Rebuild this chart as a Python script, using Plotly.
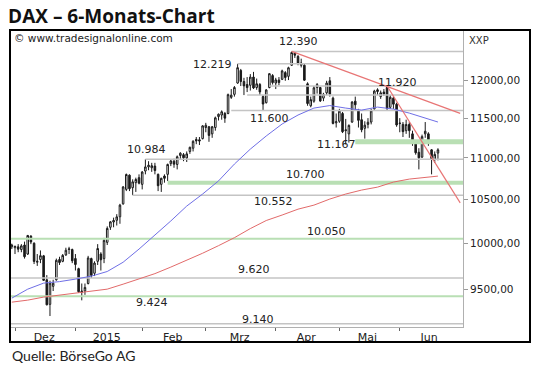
import numpy as np
import pandas as pd
import plotly.graph_objects as go

# ---------------- data ----------------
HOLIDAYS = ["2014-12-24", "2014-12-25", "2014-12-26", "2014-12-31", "2015-01-01",
            "2015-04-03", "2015-04-06", "2015-05-01", "2015-05-25"]
dates = [d.strftime("%Y-%m-%d") for d in pd.bdate_range("2014-11-28", "2015-06-17")
         if d.strftime("%Y-%m-%d") not in HOLIDAYS]

OPEN = [9960,
        9950, 9960, 9930, 9980, 9880, 10080, 10000, 9790, 9820, 9860, 9600, 9340, 9530, 9600, 9820, 9800, 9870, 9930, 9930,
        9830, 9720, 9480, 9480, 9560, 9830, 9670, 9800, 9880, 9830, 10010, 10180, 10240, 10260, 10300, 10450, 10620, 10790, 10640, 10700, 10760,
        10680, 10840, 10890, 10880, 10900, 10800, 10680, 10780, 10800, 10930, 10960, 10920, 11030, 11040, 11000, 11080, 11120, 11230, 11225, 11240,
        11380, 11390, 11300, 11380, 11520, 11540, 11560, 11560, 11770, 11810, 11960, 12130, 11980, 11940, 11930, 12040, 11900, 11940, 11780, 11700, 11900, 12060,
        11960, 12000, 12010, 12100, 12050, 12200, 12370, 12320, 12200, 12200, 11950, 11660, 11720, 11900, 11900, 11760, 11830, 11990, 11760, 11440,
        11460, 11560, 11340, 11300, 11450, 11720, 11600, 11480, 11370, 11420, 11450, 11620, 11870, 11780, 11840, 11900, 11640, 11760, 11680,
        11430, 11420, 11340, 11420, 11300, 11190, 11070, 11010, 11300, 11300, 11100, 10980, 11060]
HIGH = [9995,
        9975, 9990, 9990, 10018, 10093, 10090, 10010, 9880, 9920, 9870, 9650, 9590, 9600, 9830, 9850, 9880, 9950, 9960, 9940,
        9880, 9730, 9560, 9560, 9860, 9840, 9800, 9990, 9900, 10060, 10190, 10250, 10290, 10330, 10450, 10660, 10810, 10800, 10740, 10760, 10800,
        10840, 10984, 10960, 10940, 10940, 10810, 10760, 10800, 10930, 10980, 10990, 11030, 11070, 11060, 11080, 11140, 11220, 11260, 11260, 11410,
        11440, 11400, 11400, 11520, 11560, 11600, 11580, 11820, 11880, 11920, 12219, 12150, 12030, 12040, 12080, 12110, 12020, 11960, 11800, 11880, 12090, 12080,
        12030, 12040, 12140, 12120, 12180, 12390, 12380, 12340, 12290, 12220, 11970, 11780, 11920, 11960, 11910, 11830, 11990, 12040, 11780, 11560,
        11620, 11580, 11490, 11420, 11720, 11780, 11620, 11560, 11460, 11500, 11620, 11870, 11890, 11860, 11880, 11920, 11800, 11780, 11700,
        11500, 11450, 11480, 11450, 11340, 11220, 11120, 11290, 11450, 11320, 11110, 11080, 11120]
LOW = [9935,
       9880, 9900, 9900, 9830, 9870, 9990, 9770, 9750, 9780, 9590, 9330, 9219, 9480, 9590, 9760, 9790, 9860, 9880, 9780,
       9700, 9460, 9382, 9440, 9550, 9620, 9640, 9760, 9700, 9780, 9980, 10150, 10180, 10200, 10220, 10440, 10600, 10600, 10552, 10590, 10680,
       10620, 10800, 10850, 10830, 10800, 10600, 10590, 10700, 10720, 10900, 10880, 10860, 10990, 10960, 10950, 11050, 11080, 11170, 11160, 11230,
       11320, 11200, 11250, 11340, 11470, 11480, 11440, 11550, 11750, 11780, 11950, 11920, 11800, 11840, 11860, 11880, 11870, 11800, 11600, 11690, 11890, 11940,
       11880, 11930, 12000, 11990, 12000, 12190, 12300, 12200, 12170, 11990, 11660, 11640, 11700, 11820, 11710, 11720, 11800, 11780, 11420, 11380,
       11440, 11310, 11167, 11190, 11440, 11600, 11380, 11320, 11240, 11370, 11420, 11610, 11800, 11750, 11790, 11600, 11620, 11620, 11390,
       11320, 11260, 11300, 11250, 11150, 11040, 10860, 11000, 11250, 11150, 10800, 10940, 10970]
CLOSE = [9980,
         9963, 9934, 9971, 9851, 10087, 10014, 9799, 9800, 9862, 9594, 9335, 9564, 9563, 9811, 9787, 9865, 9922, 9936, 9806,
         9765, 9473, 9469, 9518, 9837, 9648, 9781, 9941, 9817, 10032, 10167, 10242, 10257, 10299, 10435, 10649, 10798, 10628, 10710, 10738, 10694,
         10828, 10890, 10911, 10905, 10846, 10664, 10752, 10752, 10920, 10963, 10924, 11014, 11058, 11002, 11050, 11131, 11206, 11211, 11210, 11401,
         11409, 11280, 11390, 11504, 11550, 11582, 11500, 11806, 11799, 11901, 12167, 11980, 11922, 11899, 12040, 11895, 11950, 11842, 11683, 11868, 12086, 11966,
         12002, 11967, 12123, 12035, 12166, 12375, 12338, 12227, 12231, 11998, 11689, 11740, 11896, 11939, 11723, 11810, 11960, 11811, 11432, 11454,
         11590, 11327, 11350, 11407, 11709, 11673, 11472, 11351, 11410, 11447, 11594, 11853, 11848, 11830, 11815, 11625, 11771, 11681, 11413,
         11436, 11328, 11419, 11340, 11197, 11064, 11001, 11265, 11333, 11197, 10985, 11044, 11100]
assert len(OPEN) == len(HIGH) == len(LOW) == len(CLOSE) == len(dates)

# moving averages at every fifth session
MA_DATES = dates[::5] + [dates[-1]]
MA_BLUE = [9405, 9500, 9564, 9580, 9607, 9639, 9689, 9790, 9935, 10091, 10252, 10424, 10565, 10721,
           10925, 11109, 11273, 11425, 11540, 11630, 11663, 11630, 11604, 11643, 11617, 11565, 11501, 11450]
MA_RED = [9363, 9384, 9416, 9437, 9453, 9474, 9500, 9553, 9612, 9666, 9737, 9812, 9889, 9973,
          10062, 10165, 10257, 10320, 10388, 10435, 10506, 10565, 10612, 10647, 10707, 10743, 10767, 10779]

# trend lines
TREND1_X = ["2015-04-10", "2015-06-26"]
TREND1_Y = [12390, 11562]
TREND2_X = ["2015-05-26", "2015-06-26"]
TREND2_Y = [11920, 10462]

# support / resistance levels
GRAY_LEVELS = [12390, 12219, 11920, 11800, 11600, 10984, 10552, 9620, 9140]
GRAY_FROM = ["2015-04-10", "2015-03-16", "2015-03-30", "2015-03-19", "2015-03-12",
             "2015-02-03", "2015-01-28", None, None]
GREEN_LEVELS = [11200, 10700, 10050, 9424]
GREEN_FROM = ["2015-05-11", "2015-02-12", None, None]
GREEN_WIDTH = [5, 4, 2, 2]

LABEL_TEXT = ["12.390", "12.219", "11.920", "11.600", "11.167", "10.984",
              "10.700", "10.552", "10.050", "9.620", "9.424", "9.140"]
LABEL_LEVEL = [12390, 12219, 11920, 11600, 11167, 10984, 10700, 10552, 10050, 9620, 9424, 9140]
LABEL_DATE = ["2015-04-14", "2015-03-04", "2015-05-29", "2015-03-30", "2015-04-30", "2015-02-03",
              "2015-04-16", "2015-03-31", "2015-04-27", "2015-03-23", "2015-02-05", "2015-03-24"]
LABEL_DX = [0, 0, 1, 0, 0, 1, 1, 1, 0, 0, 0, 1]
LABEL_DY = [10, -1, 4, -8, 0, 10, 8.5, -6.5, 7, 8, -6.5, 4.5]

Y_TICKS = [9500, 10000, 10500, 11000, 11500, 12000]
Y_TICKTEXT = ["9500,00", "10000,00", "10500,00", "11000,00", "11500,00", "12000,00"]
MONTH_LABELS = ["Dez", "2015", "Feb", "Mrz", "Apr", "Mai", "Jun"]
MONTH_LABEL_AT = ["2014-12-12 04:00", "2015-01-15 20:00", "2015-02-13 14:00", "2015-03-16 16:00",
                  "2015-04-16 14:00", "2015-05-14 20:00", "2015-06-12 06:00"]
MONTH_STARTS = ["2014-12-01", "2015-01-02", "2015-02-02", "2015-03-02",
                "2015-04-01", "2015-05-04", "2015-06-01"]

X_START = "2014-11-27 10:16"
X_END = "2015-06-26 21:07"

# ---------------- figure ----------------
fig = go.Figure()

for lvl, x0 in zip(GRAY_LEVELS, GRAY_FROM):
    fig.add_trace(go.Scatter(x=[x0 or X_START, X_END], y=[lvl, lvl], mode="lines",
                             line=dict(color="#c4c4c4", width=1.5), hoverinfo="skip", showlegend=False))
for lvl, x0, w in zip(GREEN_LEVELS, GREEN_FROM, GREEN_WIDTH):
    fig.add_trace(go.Scatter(x=[x0 or X_START, X_END], y=[lvl, lvl], mode="lines",
                             line=dict(color="#b9dfb4", width=w), hoverinfo="skip", showlegend=False))

fig.add_trace(go.Scatter(x=MA_DATES, y=MA_RED, mode="lines", line=dict(color="#e26a6a", width=1),
                         hoverinfo="skip", showlegend=False))
fig.add_trace(go.Scatter(x=MA_DATES, y=MA_BLUE, mode="lines", line=dict(color="#6f6fe6", width=1),
                         hoverinfo="skip", showlegend=False))

fig.add_trace(go.Candlestick(
    x=dates, open=OPEN, high=HIGH, low=LOW, close=CLOSE,
    increasing=dict(line=dict(color="#1a1a1a", width=1), fillcolor="#ffffff"),
    decreasing=dict(line=dict(color="#1a1a1a", width=1), fillcolor="#1a1a1a"),
    whiskerwidth=0, showlegend=False, hoverinfo="skip"))

for tx, ty in ((TREND1_X, TREND1_Y), (TREND2_X, TREND2_Y)):
    fig.add_trace(go.Scatter(x=tx, y=ty, mode="lines", line=dict(color="#e87575", width=1.2),
                             hoverinfo="skip", showlegend=False))

label_font = dict(family="DejaVu Sans", size=11, color="#222222")
for t, lv, d, dx, dy in zip(LABEL_TEXT, LABEL_LEVEL, LABEL_DATE, LABEL_DX, LABEL_DY):
    fig.add_annotation(x=d, y=np.log10(lv), text=t, showarrow=False, xanchor="center",
                       yanchor="middle", xshift=dx, yshift=dy, font=label_font)

fig.add_annotation(xref="paper", yref="paper", x=0, y=1, xshift=2, yshift=-7, xanchor="left",
                   yanchor="middle", text="© www.tradesignalonline.com", showarrow=False,
                   font=dict(family="DejaVu Sans", size=10.5, color="#222222"))
fig.add_annotation(xref="paper", yref="paper", x=1, y=1, xshift=4, yshift=-9, xanchor="left",
                   yanchor="middle", text="XXP", showarrow=False,
                   font=dict(family="DejaVu Sans", size=10, color="#333333"))
fig.add_annotation(xref="paper", yref="paper", x=0, y=-28 / 296, xanchor="left", yanchor="middle",
                   text="Quelle: BörseGo AG", showarrow=False,
                   font=dict(family="Lato", size=14, color="#222222"))

# outer black frame (drawn as an empty bordered annotation box)
fig.add_annotation(xref="paper", yref="paper", x=259.5 / 453, y=141.25 / 296,
                   xanchor="center", yanchor="middle", text=" ", showarrow=False,
                   width=518, height=310, borderpad=0, borderwidth=2, bordercolor="#000000",
                   bgcolor="rgba(0,0,0,0)")

fig.update_layout(
    width=540, height=370,
    margin=dict(l=10, r=77, t=31, b=43),
    paper_bgcolor="white", plot_bgcolor="white",
    title=dict(text="<b>DAX – 6-Monats-Chart</b>", x=0.015, xanchor="left", xref="container",
               y=0.955, yanchor="middle", yref="container",
               font=dict(family="Open Sans", size=19, color="#111111")),
    xaxis=dict(type="date", range=[X_START, X_END], rangeslider=dict(visible=False),
               rangebreaks=[dict(bounds=["sat", "mon"]), dict(values=HOLIDAYS)],
               tickmode="array", tickvals=MONTH_LABEL_AT, ticktext=MONTH_LABELS, ticks="",
               showgrid=False, zeroline=False, showline=True, mirror=True, linecolor="#b0b0b0",
               tickfont=dict(family="DejaVu Sans", size=11, color="#222222"),
               minor=dict(tickmode="array", tickvals=MONTH_STARTS, ticks="outside", ticklen=3,
                          tickcolor="#666666", tickwidth=1, showgrid=False)),
    yaxis=dict(type="log", range=[np.log10(9106.6), np.log10(12676)], side="right",
               tickmode="array", tickvals=Y_TICKS, ticktext=Y_TICKTEXT, ticks="outside",
               ticklen=4, tickcolor="#999999", showgrid=False, zeroline=False,
               showline=True, mirror=True, linecolor="#b0b0b0",
               tickfont=dict(family="DejaVu Sans", size=10.5, color="#222222")),
    hovermode=False,
)

fig.write_html("out.html", config={"displayModeBar": False},
               post_script="document.body.style.margin='0';document.body.style.overflow='hidden';")
